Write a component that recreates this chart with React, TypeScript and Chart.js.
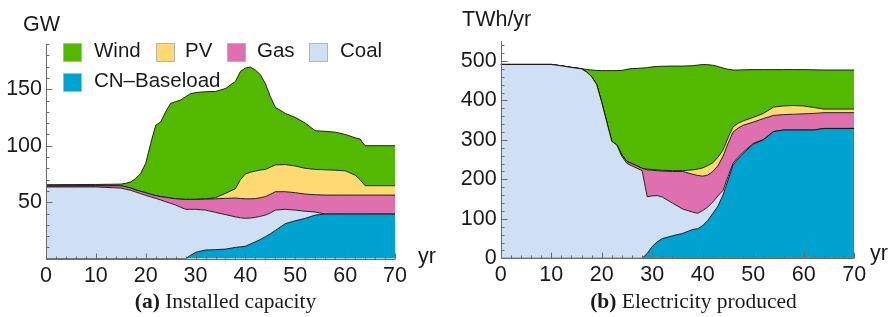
import React, { useEffect, useRef } from 'react';
import { Chart, registerables } from 'chart.js';
Chart.register(...registerables);

// ---------- (a) Installed capacity, GW ----------
const yearsA = [0, 10, 15, 16, 17, 18, 19, 20, 21, 22, 23, 24, 25, 26, 27, 28, 29, 30, 32, 34, 36, 38, 39, 40, 41, 42, 43, 44, 45, 46, 48, 50, 52, 54, 56, 58, 60, 62, 63, 64, 70];
const baseloadA = [0, 0, 0, 0, 0, 0, 0, 0, 0, 0, 0, 0, 0, 0, 0, 0, 3, 5.6, 7.7, 8, 8.5, 10, 10.5, 11, 13, 15, 17, 19.5, 22, 25, 31, 33.6, 35.7, 38.6, 39.5, 39.5, 39.5, 39.5, 39.5, 39.5, 39.5];
const coalA = [63.5, 63.5, 62.5, 61.5, 60.5, 59, 57.5, 56, 54.7, 53.4, 52, 50.4, 49, 47.5, 45.5, 43.7, 40.7, 38.1, 35.3, 33, 30.5, 27, 25.7, 24.7, 23, 21.6, 20.5, 19.1, 18.5, 18, 12.7, 9.4, 6.3, 2.7, 0, 0, 0, 0, 0, 0, 0];
const gasA = [0.8, 1, 2, 2.2, 2, 1.8, 2.1, 2.4, 2.3, 2.4, 3, 3.9, 4.6, 5.5, 7.2, 8.8, 8.8, 8.8, 9.7, 12, 14.4, 16.7, 17.1, 17.3, 17, 16.6, 16.5, 16.3, 16.5, 16.3, 15.6, 15.4, 15.2, 15.3, 16.8, 16.8, 16.8, 16.8, 16.8, 16.8, 16.8];
const pvA = [0, 0, 0, 0, 0, 0, 0, 0, 0, 0, 0, 0, 0, 0, 0, 0, 0, 0, 0.3, 1, 4.4, 8.3, 16.7, 22, 23.5, 24.3, 24.5, 24.1, 24, 23.7, 24, 23.6, 22.8, 22.4, 22.4, 22, 21.5, 17.7, 13.7, 8.3, 8.3];
const windA = [1.2, 1.2, 1.5, 3, 5.5, 10.2, 15.9, 26, 45, 62.2, 66, 75.7, 83.9, 86, 87.7, 90.9, 93.5, 94.5, 94.8, 94, 92.8, 94.9, 95.8, 93.7, 93.1, 89.5, 84.3, 76, 62.4, 51, 45.3, 43, 40, 34.3, 34, 33.7, 32.2, 33, 35.9, 35.4, 35.4];

// ---------- (b) Electricity produced, TWh/yr ----------
const yearsB = [0, 10, 12, 14, 16, 17, 18, 19, 20, 21, 22, 23, 24, 25, 26, 27, 28, 29, 30, 31, 32, 34, 36, 38, 39, 40, 41, 42, 43, 44, 45, 46, 47, 48, 50, 52, 54, 56, 58, 60, 62, 64, 70];
const baseloadB = [0, 0, 0, 0, 0, 0, 0, 0, 0, 0, 0, 0, 0, 0, 0, 0, 0, 12, 30, 42, 50, 57, 63, 73, 75, 83, 96, 114, 132, 160, 198, 236, 252, 266, 289, 300, 321, 325, 325, 325, 325, 329, 329];
const coalB = [491, 491, 487.5, 483.5, 480, 472, 460, 440, 395, 345, 296, 287, 258, 240, 234, 228, 222, 144, 128, 117, 105, 83, 62, 44, 39, 38, 34, 29, 26, 12, 9, 5, 4, 3, 2, 1, 0, 0, 0, 0, 0, 0, 0];
const gasB = [0, 0, 0, 0, 0, 0, 0, 0, 0, 0, 0, 0, 4, 5, 6, 6, 6, 68, 65, 63, 66, 80, 95, 96, 96, 87, 81, 77, 76, 86, 84, 79, 74, 68, 54, 53, 41, 39, 40, 41, 42, 40, 40];
const pvB = [0, 0, 0, 0, 0, 0, 0, 0, 0, 0, 0, 0, 0, 0, 0, 0, 0, 2, 2, 2, 2, 2, 2, 11, 16, 21, 24, 22, 22, 16, 14, 13, 12, 11, 12, 13, 21, 22, 22, 20, 15, 9, 9];
const windB = [0.6, 0.6, 0.5, 0.5, 0.6, 6.5, 17, 36, 80.5, 130.5, 179.5, 188.5, 214, 234, 240.6, 247, 254, 257, 260, 262, 263.5, 265, 265, 264, 263.5, 262, 255.5, 247, 230, 208, 174, 144, 135, 129.5, 121, 111, 95, 92, 91, 92, 95.5, 99, 99];

const xTickLabels = [0, 10, 20, 30, 40, 50, 60, 70];
const yTickLabelsA = [50, 100, 150];
const yTickLabelsB = [0, 100, 200, 300, 400, 500];

const NAMES = ['CN–Baseload', 'Coal', 'Gas', 'PV', 'Wind'];
const COLORS = ['#00a2d0', '#cfdff4', '#de70b0', '#ffda73', '#53b900'];
const LEGEND_ORDER = [4, 3, 2, 1];

const SANS = '"Liberation Sans", Arial, sans-serif';
const SERIF = '"Liberation Serif", "Times New Roman", serif';
const TEXT = '#1a1a1a';

const inwardTicks = {
  id: 'inwardTicks',
  afterDraw(chart: any, _args: any, opts: any) {
    const { ctx, chartArea, scales } = chart;
    const xs = scales.x;
    const ys = scales.y;
    ctx.save();
    ctx.strokeStyle = '#6a6a6a';
    ctx.lineWidth = 1;
    ctx.beginPath();
    const bx = Math.round(chartArea.left) + 0.5;
    const by = Math.round(chartArea.bottom) + 0.5;
    ctx.moveTo(bx, Math.round(chartArea.top));
    ctx.lineTo(bx, by);
    ctx.lineTo(Math.round(chartArea.right), by);
    ctx.stroke();
    for (let v = xs.min; v <= xs.max + 1e-9; v += opts.xMinor) {
      const px = Math.round(xs.getPixelForValue(v)) + 0.5;
      const len = Math.abs(v % opts.xMajor) < 1e-9 ? 6 : 3;
      ctx.beginPath();
      ctx.moveTo(px, by);
      ctx.lineTo(px, by - len);
      ctx.stroke();
    }
    for (let v = ys.min; v <= ys.max + 1e-9; v += opts.yMinor) {
      const py = Math.round(ys.getPixelForValue(v)) + 0.5;
      const len = Math.abs(v % opts.yMajor) < 1e-9 ? 6 : 3;
      ctx.beginPath();
      ctx.moveTo(bx, py);
      ctx.lineTo(bx + len, py);
      ctx.stroke();
    }
    ctx.restore();
  },
};

function buildDatasets(years: number[], cols: number[][]) {
  return cols.map((vals, i) => ({
    label: NAMES[i],
    data: years.map((x, j) => ({ x, y: vals[j] })),
    backgroundColor: COLORS[i],
    borderColor: 'rgba(15,15,15,0.9)',
    borderWidth: 1,
    fill: i === 0 ? 'origin' : '-1',
    pointRadius: 0,
    tension: 0,
  }));
}

type Props = {
  years: number[];
  cols: number[][];
  yMax: number;
  yStep: number;
  yLabels: number[];
  yMinor: number;
  width: number;
  height: number;
  axisW: number;
  axisH: number;
  padTop: number;
  padRight: number;
  style: React.CSSProperties;
};

function AreaChart(p: Props) {
  const ref = useRef<HTMLCanvasElement | null>(null);
  useEffect(() => {
    if (!ref.current) return;
    const chart = new Chart(ref.current, {
      type: 'line',
      data: { datasets: buildDatasets(p.years, p.cols) as any },
      options: {
        animation: false,
        responsive: false,
        devicePixelRatio: 1,
        layout: { padding: { left: 0, top: p.padTop, right: p.padRight, bottom: 0 } },
        plugins: {
          legend: { display: false },
          tooltip: { enabled: false },
          inwardTicks: { xMinor: 2, xMajor: 10, yMinor: p.yMinor, yMajor: p.yStep },
        } as any,
        scales: {
          x: {
            type: 'linear',
            min: 0,
            max: 70,
            ticks: {
              stepSize: 10,
              autoSkip: false,
              includeBounds: false,
              maxRotation: 0,
              padding: 4,
              color: TEXT,
              font: { family: SANS, size: 21.5 },
              callback: (v: any) => (xTickLabels.includes(Number(v)) ? String(v) : ''),
            },
            grid: { display: false, drawTicks: false },
            border: { display: false },
            afterFit: (s: any) => { s.height = p.axisH; },
          },
          y: {
            type: 'linear',
            stacked: true,
            min: 0,
            max: p.yMax,
            ticks: {
              stepSize: p.yStep,
              autoSkip: false,
              includeBounds: false,
              padding: 4,
              color: TEXT,
              font: { family: SANS, size: 21.5 },
              callback: (v: any) => (p.yLabels.includes(Number(v)) ? String(v) : ''),
            },
            grid: { display: false, drawTicks: false },
            border: { display: false },
            afterFit: (s: any) => { s.width = p.axisW; },
          },
        } as any,
      },
      plugins: [inwardTicks as any],
    });
    return () => chart.destroy();
  }, []);
  return <canvas ref={ref} width={p.width} height={p.height} style={{ position: 'absolute', width: p.width, height: p.height, ...p.style }} />;
}

const abs = (left: number, top: number, extra: React.CSSProperties = {}): React.CSSProperties => ({
  position: 'absolute', left, top, lineHeight: 1, whiteSpace: 'nowrap', color: TEXT, ...extra,
});

export default function App() {
  const legendPos = [
    { box: 63, text: 94, top: 43 },
    { box: 156, text: 185, top: 43 },
    { box: 227, text: 257, top: 43 },
    { box: 309, text: 340, top: 43 },
  ];
  return (
    <div style={{ position: 'absolute', left: 0, top: 0, width: 895, height: 317, background: '#fff', overflow: 'hidden' }}>
      <AreaChart
        years={yearsA}
        cols={[baseloadA, coalA, gasA, pvA, windA]}
        yMax={190}
        yStep={50}
        yLabels={yTickLabelsA}
        yMinor={10}
        width={430}
        height={290}
        axisW={46}
        axisH={31.3}
        padTop={44}
        padRight={35}
        style={{ left: 0, top: 0 }}
      />
      <AreaChart
        years={yearsB}
        cols={[baseloadB, coalB, gasB, pvB, windB]}
        yMax={550}
        yStep={100}
        yLabels={yTickLabelsB}
        yMinor={20}
        width={465}
        height={290}
        axisW={70.7}
        axisH={31.7}
        padTop={41.2}
        padRight={40.7}
        style={{ left: 430, top: 0 }}
      />
      <div style={abs(23, 14.2, { fontFamily: SANS, fontSize: 21.5 })}>GW</div>
      <div style={abs(418, 246, { fontFamily: SANS, fontSize: 21.5 })}>yr</div>
      <div style={abs(462, 9.2, { fontFamily: SANS, fontSize: 21.5 })}>TWh/yr</div>
      <div style={abs(870, 243.3, { fontFamily: SANS, fontSize: 21.5 })}>yr</div>
      {LEGEND_ORDER.map((si, k) => (
        <React.Fragment key={NAMES[si]}>
          <div style={{ position: 'absolute', left: legendPos[k].box, top: legendPos[k].top, width: 17, height: 17, background: COLORS[si], border: '1px solid #b4b4b4' }} />
          <div style={abs(legendPos[k].text, legendPos[k].top - 2.7, { fontFamily: SANS, fontSize: 20.5 })}>{NAMES[si]}</div>
        </React.Fragment>
      ))}
      <div style={{ position: 'absolute', left: 63, top: 73, width: 17, height: 17, background: COLORS[0], border: '1px solid #b4b4b4' }} />
      <div style={abs(94, 70.3, { fontFamily: SANS, fontSize: 20.5 })}>{NAMES[0]}</div>
      <div style={abs(5.5, 291, { width: 440, textAlign: 'center', fontFamily: SERIF, fontSize: 21.5 })}>
        <b>(a)</b> Installed capacity
      </div>
      <div style={abs(473.5, 291, { width: 440, textAlign: 'center', fontFamily: SERIF, fontSize: 21.5 })}>
        <b>(b)</b> Electricity produced
      </div>
    </div>
  );
}
